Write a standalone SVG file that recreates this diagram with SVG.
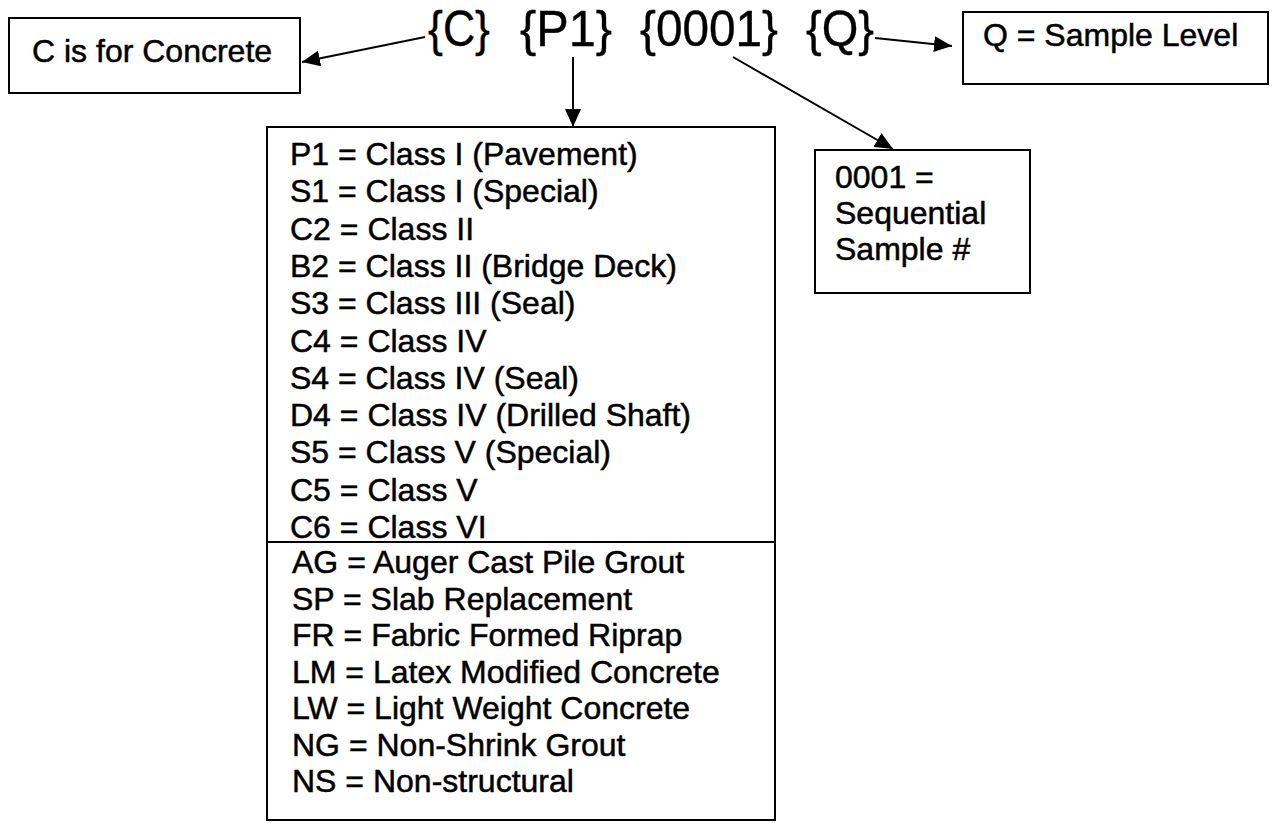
<svg xmlns="http://www.w3.org/2000/svg" width="1274" height="823" viewBox="0 0 1274 823">
<style>
  .box { fill: #ffffff; stroke: #000000; stroke-width: 2; }
  .txt { font-family: "Liberation Sans", Arial, sans-serif; font-size: 32px; fill: #000000; stroke: #000000; stroke-width: 0.5; }
  .title { font-family: "Liberation Sans", Arial, sans-serif; font-size: 50px; fill: #000000; stroke: #000000; stroke-width: 0.4; }
  .conn { stroke: #000000; stroke-width: 2; fill: none; marker-end: url(#arrow); }
  .div { stroke: #000000; stroke-width: 2; }
</style>
<defs>
  <marker id="arrow" markerUnits="userSpaceOnUse" markerWidth="20" markerHeight="16" refX="18" refY="8" orient="auto">
    <path d="M0,0 L18,8 L0,16 Z" fill="#000000"/>
  </marker>
</defs>
<rect width="1274" height="823" fill="#ffffff"/>

<g id="title">
  <text class="title" x="428" y="46" textLength="62" lengthAdjust="spacingAndGlyphs">{C}</text>
  <text class="title" x="520" y="46" textLength="92" lengthAdjust="spacingAndGlyphs">{P1}</text>
  <text class="title" x="640" y="46" textLength="138" lengthAdjust="spacingAndGlyphs">{0001}</text>
  <text class="title" x="806" y="46" textLength="68" lengthAdjust="spacingAndGlyphs">{Q}</text>
</g>

<g id="node-c">
  <rect class="box" x="9" y="18" width="291" height="75"/>
  <text class="txt" x="32" y="62">C is for Concrete</text>
</g>

<g id="node-q">
  <rect class="box" x="963" y="12" width="305" height="72"/>
  <text class="txt" x="983" y="46">Q = Sample Level</text>
</g>

<g id="node-seq">
  <rect class="box" x="815" y="150" width="215" height="143"/>
  <text class="txt" x="835" y="188">0001 =</text>
  <text class="txt" x="835" y="224">Sequential</text>
  <text class="txt" x="835" y="260">Sample #</text>
</g>

<g id="node-class">
  <rect class="box" x="267" y="127" width="508" height="693"/>
  <line class="div" x1="267" y1="542" x2="775" y2="542"/>
  <text class="txt" x="290" y="165">P1 = Class I (Pavement)</text>
  <text class="txt" x="290" y="202.3">S1 = Class I (Special)</text>
  <text class="txt" x="290" y="239.6">C2 = Class II</text>
  <text class="txt" x="290" y="276.9">B2 = Class II (Bridge Deck)</text>
  <text class="txt" x="290" y="314.2">S3 = Class III (Seal)</text>
  <text class="txt" x="290" y="351.5">C4 = Class IV</text>
  <text class="txt" x="290" y="388.8">S4 = Class IV (Seal)</text>
  <text class="txt" x="290" y="426.1">D4 = Class IV (Drilled Shaft)</text>
  <text class="txt" x="290" y="463.4">S5 = Class V (Special)</text>
  <text class="txt" x="290" y="500.7">C5 = Class V</text>
  <text class="txt" x="290" y="538">C6 = Class VI</text>
  <text class="txt" x="292" y="573">AG = Auger Cast Pile Grout</text>
  <text class="txt" x="292" y="609.5">SP = Slab Replacement</text>
  <text class="txt" x="292" y="646">FR = Fabric Formed Riprap</text>
  <text class="txt" x="292" y="682.5">LM = Latex Modified Concrete</text>
  <text class="txt" x="292" y="719">LW = Light Weight Concrete</text>
  <text class="txt" x="292" y="755.5">NG = Non-Shrink Grout</text>
  <text class="txt" x="292" y="792">NS = Non-structural</text>
</g>

<g id="connectors">
  <line class="conn" x1="425" y1="37" x2="302" y2="62"/>
  <line class="conn" x1="573" y1="57" x2="573" y2="127"/>
  <line class="conn" x1="733" y1="57" x2="893" y2="149"/>
  <line class="conn" x1="875" y1="38" x2="952" y2="46"/>
</g>
</svg>
